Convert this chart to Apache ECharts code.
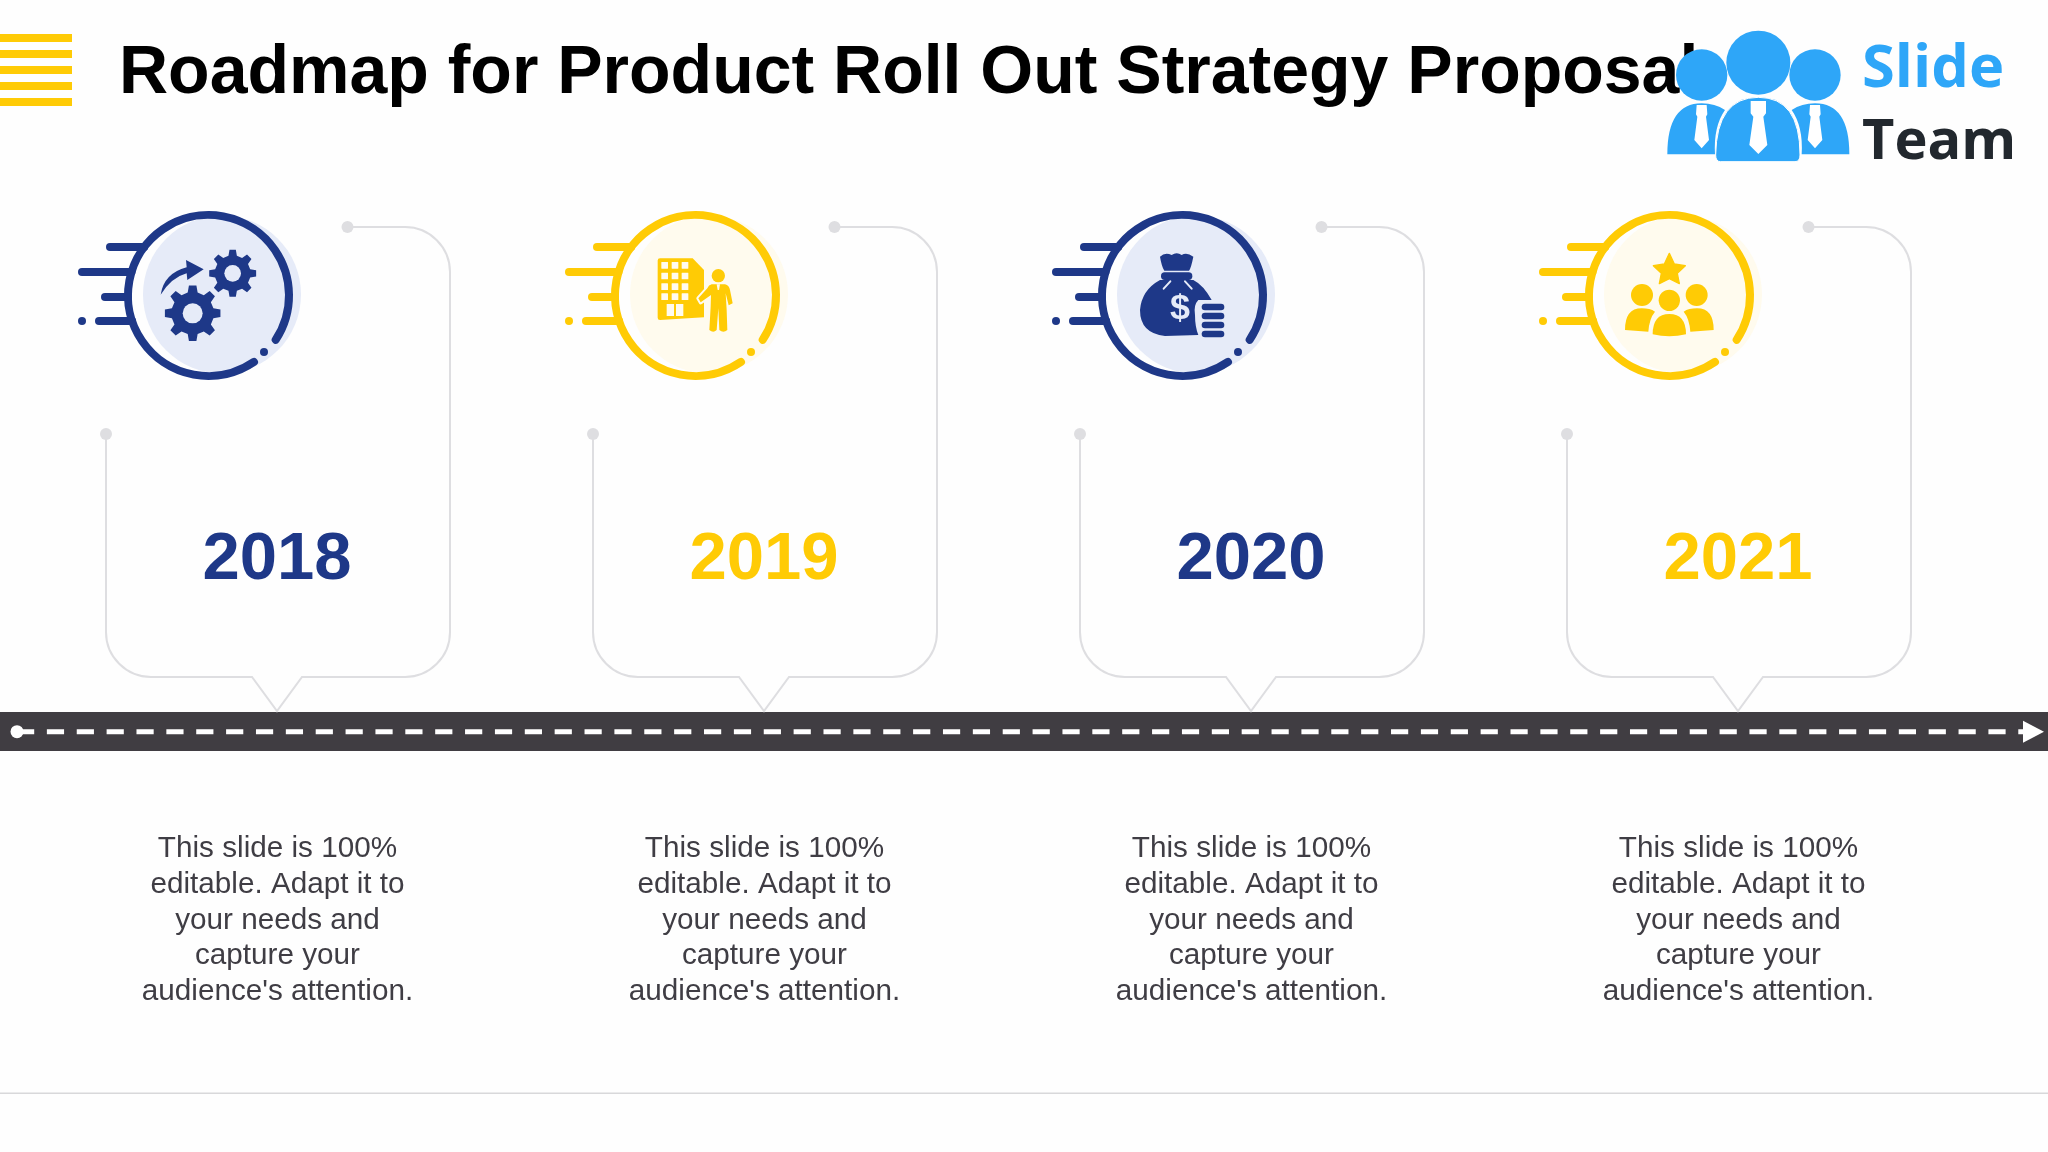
<!DOCTYPE html>
<html>
<head>
    <meta charset="UTF-8">
    <title>Roadmap for Product Roll Out Strategy Proposal</title>
    <style>
        html, body { margin: 0; height: 100%; background: #fefefe; }
        #main { width: 2048px; height: 1152px; }
    </style>
</head>
<body>
<div id="main"></div>
<script src="https://cdn.jsdelivr.net/npm/echarts@6/dist/echarts.min.js"></script>
<script>
    var titleText = 'Roadmap for Product Roll Out Strategy Proposal';
    var years = ['2018', '2019', '2020', '2021'];
    var descLines = ['This slide is 100%', 'editable. Adapt it to', 'your needs and', 'capture your', "audience's attention."];
    var logoWords = ['Slide', 'Team'];

    var NAVY = '#1e3888', YELLOW = '#ffcb05', PALE_NAVY = '#e6ebf8', PALE_YELLOW = '#fffbee';
    var GREY = '#dedee1', FONT = '"Liberation Sans", Arial, sans-serif';

    function path(d, style) {
        return { type: 'path', shape: { pathData: d }, style: style };
    }
    function circle(x, y, r, fill) {
        return { type: 'circle', shape: { cx: x, cy: y, r: r }, style: { fill: fill } };
    }
    function rrect(x, y, w, h, r, fill) {
        return { type: 'rect', shape: { x: x, y: y, width: w, height: h, r: r }, style: { fill: fill } };
    }
    // crop-pixel drawings: icons were traced at 3x, so scale the group down
    function traced(dx, dy, children) {
        return { type: 'group', x: dx, y: dy, scaleX: 1 / 3, scaleY: 1 / 3, children: children };
    }

    function gearPath(cx, cy, rOut, rRoot, n) {
        var step = Math.PI * 2 / n, pts = [];
        for (var k = 0; k < n; k++) {
            var a = k * step;
            [[rRoot, -0.3], [rOut, -0.17], [rOut, 0.17], [rRoot, 0.3]].forEach(function (p) {
                pts.push((cx + p[0] * Math.cos(a + p[1] * step)).toFixed(1) + ',' + (cy + p[0] * Math.sin(a + p[1] * step)).toFixed(1));
            });
        }
        return 'M' + pts.join('L') + 'Z';
    }

    function gearsIcon(c, bg) {
        return traced(-148.5, -105.5, [
            path(gearPath(398, 370, 84, 64, 8), { fill: c }),
            circle(398, 370, 30, bg),
            path(gearPath(518, 250, 71, 54, 8), { fill: c }),
            circle(518, 250, 25, bg),
            path('M302,314Q312,250 380,232L378,210L431,238L382,270L380,250Q335,262 302,314Z', { fill: c })
        ]);
    }
    function buildingIcon(c, bg) {
        var kids = [
            path('M90,55L188,55L222,90L222,232L90,240Q83,240 83,233L83,62Q83,55 90,55Z', { fill: c })
        ];
        [66, 98, 130, 160].forEach(function (y) {
            [94, 125, 155].forEach(function (x) { kids.push(rrect(x, y, 20, 20, 1, bg)); });
        });
        kids.push(rrect(110, 192, 22, 36, 0, bg), rrect(138, 192, 22, 36, 0, bg));
        var man = 'M245,133L285,133Q298,137 300,150L308,190L296,196L287,160L290,210L292,270Q280,280 268,270L265,205L260,270Q250,280 238,270L242,200L243,165L212,187L205,175L232,145Q236,135 245,133Z';
        kids.push(path(man, { fill: bg, stroke: bg, lineWidth: 12, lineJoin: 'round' }));
        kids.push(path(man, { fill: c }));
        kids.push(circle(265, 107, 20, c));
        kids.push(path('M260,133L270,133L267,150L263,150Z', { fill: bg }));
        return traced(-65.5, -55.5, kids);
    }
    function moneyIcon(c, bg) {
        var kids = [
            path('M135,50Q150,35 170,45Q185,35 200,45Q215,35 235,50Q228,85 222,92L148,92Q140,80 135,50Z', { fill: c }),
            rrect(138, 97, 94, 23, 11, c),
            path('M135,120L235,120Q265,135 290,180L250,180Q235,195 240,225Q240,260 250,285L150,288Q75,280 75,210Q80,150 135,120Z', { fill: c }),
            path('M146,146L166,124M230,146L210,124', { fill: 'none', stroke: bg, lineWidth: 6, lineCap: 'round' }),
            { type: 'text', style: { text: '$', x: 195, y: 207, align: 'center', verticalAlign: 'middle', fontSize: 108, fontWeight: 'bold', fontFamily: FONT, fill: bg } }
        ];
        [191, 218, 245, 272].forEach(function (y) { kids.push(rrect(260, y, 68, 20, 10, c)); });
        return traced(-67.5, -55.5, kids);
    }
    function teamIcon(c) {
        return traced(-69.5, -55.5, [
            path('M208,40L223,72L256,77L232,100L238,131L208,116L178,131L184,100L160,77L193,72Z', { fill: c, stroke: c, lineWidth: 4, lineJoin: 'round' }),
            circle(126, 165, 33, c),
            circle(290, 165, 33, c),
            circle(208, 181, 32, c),
            path('M75,270Q75,205 125,205Q150,205 165,215Q148,235 145,275Z', { fill: c }),
            path('M341,270Q341,205 291,205Q266,205 251,215Q268,235 271,275Z', { fill: c }),
            path('M158,283Q158,222 208,222Q258,222 258,283Q208,295 158,283Z', { fill: c })
        ]);
    }

    function badge(i, c, bg) {
        var R = 80.5;
        var kids = [circle(13.5, -1, 79, bg)];
        [[-48.5, -98.5], [-23.5, -126.5], [1.5, -103.5], [25.5, -109.5]].forEach(function (l) {
            kids.push({ type: 'line', shape: { x1: l[1], y1: l[0], x2: -Math.sqrt(R * R - l[0] * l[0]), y2: l[0] }, style: { stroke: c, lineWidth: 8, lineCap: 'round' } });
        });
        kids.push(circle(-126.5, 25.5, 4, c));
        kids.push({
            type: 'arc',
            shape: { cx: 0, cy: 0, r: R, startAngle: 55.6 * Math.PI / 180, endAngle: (360 + 33.4) * Math.PI / 180, clockwise: true },
            style: { stroke: c, fill: null, lineWidth: 8, lineCap: 'round' }
        });
        kids.push(circle(55.5, 56.5, 4, c));
        kids.push([gearsIcon(c, bg), buildingIcon(c, bg), moneyIcon(c, bg), teamIcon(c)][i]);
        return { type: 'group', x: -68.5, y: 295.5, children: kids };
    }

    function renderMilestone(params, api) {
        var i = api.value(0);
        var cx = api.coord([i, 0])[0];
        var c = i % 2 ? YELLOW : NAVY, bg = i % 2 ? PALE_YELLOW : PALE_NAVY;
        return {
            type: 'group',
            x: cx,
            y: 0,
            children: [
                path('M-171,434L-171,632A45,45 0 0 0 -126,677L-25,677L0,711L25,677L128,677A45,45 0 0 0 173,632L173,272A45,45 0 0 0 128,227L70,227',
                    { fill: 'none', stroke: GREY, lineWidth: 2 }),
                circle(-171, 434, 6, GREY),
                circle(70.5, 227, 6, GREY),
                badge(i, c, bg),
                { type: 'text', style: { text: years[i], x: 0, y: 561, align: 'center', verticalAlign: 'middle', fontSize: 67, fontWeight: 'bold', fontFamily: FONT, fill: c } },
                { type: 'text', style: { text: descLines.join('\n'), x: 0.5, y: 831, align: 'center', verticalAlign: 'top', fontSize: 29.7, lineHeight: 35.75, fontFamily: FONT, fill: '#3f3d44' } }
            ]
        };
    }

    function renderLogo() {
        var blue = '#2ea6f8';
        var tie = function (x) {
            return path('M' + (x - 15) + ',255L' + (x + 15) + ',255L' + (x + 17) + ',283L' + (x + 13) + ',290L' + (x + 22) + ',360L' + x + ',385L' + (x - 22) + ',360L' + (x - 13) + ',290L' + (x - 17) + ',283Z', { fill: '#fff' });
        };
        return traced(1660, 20, [
            path('M22,403Q22,250 125,250Q165,250 195,270Q160,320 165,403Z', { fill: blue }),
            path('M568,403Q568,250 465,250Q425,250 395,270Q430,320 425,403Z', { fill: blue }),
            tie(125), tie(465),
            circle(125, 165, 77, blue),
            circle(465, 165, 77, blue),
            circle(295, 128, 96, blue),
            path('M167,405Q170,232 295,232Q420,232 420,405Q420,425 405,425L182,425Q167,425 167,405Z', { fill: blue, stroke: '#fff', lineWidth: 3 }),
            path('M272,243L318,243L318,280L310,290L322,375L295,402L268,375L280,290L272,280Z', { fill: '#fff' }),
            { type: 'text', style: { text: logoWords[0], x: 606, y: 151, align: 'left', verticalAlign: 'middle', fontSize: 179, fontWeight: 'bold', fontFamily: '"Open Sans"', fill: blue } },
            { type: 'text', style: { text: logoWords[1], x: 606, y: 368, align: 'left', verticalAlign: 'middle', fontSize: 168, fontWeight: 'bold', fontFamily: '"Open Sans"', fill: '#22282e' } }
        ]);
    }

    var chart = echarts.init(document.getElementById('main'));
    var menuBars = [34, 50, 66, 82, 98].map(function (y) {
        return { type: 'rect', shape: { x: 0, y: y, width: 72, height: 8 }, style: { fill: YELLOW } };
    });
    var option = {
        animation: false,
        backgroundColor: '#fefefe',
        title: {
            text: titleText,
            left: 119,
            top: 40,
            padding: 0,
            textStyle: { fontFamily: FONT, fontWeight: 'bold', fontSize: 68, color: '#000' }
        },
        grid: { left: 33.5, width: 1948, top: 0, bottom: 0 },
        xAxis: { type: 'category', data: years, show: false },
        yAxis: { type: 'value', min: 0, max: 1, show: false },
        graphic: menuBars.concat([
            { type: 'rect', shape: { x: 0, y: 712, width: 2048, height: 39 }, style: { fill: '#403d42' } },
            { type: 'line', shape: { x1: 17, y1: 731.7, x2: 2023, y2: 731.7 }, style: { stroke: '#fff', lineWidth: 5, lineDash: [17.2, 12.67] } },
            { type: 'circle', shape: { cx: 17, cy: 731.7, r: 6.5 }, style: { fill: '#fff' } },
            { type: 'polygon', shape: { points: [[2023, 720.7], [2044, 731.7], [2023, 742.7]] }, style: { fill: '#fff' } },
            { type: 'rect', shape: { x: 0, y: 1092.5, width: 2048, height: 1.5 }, style: { fill: '#d8d8da' } }
        ]),
        series: [{
            type: 'custom',
            name: 'milestones',
            silent: true,
            clip: false,
            renderItem: renderMilestone,
            encode: { x: 0 },
            data: years.map(function (y, i) { return [i]; })
        }, {
            type: 'custom',
            name: 'logo',
            silent: true,
            clip: false,
            z: 10,
            renderItem: renderLogo,
            data: [[0]]
        }]
    };
    chart.setOption(option);
</script>
</body>
</html>
